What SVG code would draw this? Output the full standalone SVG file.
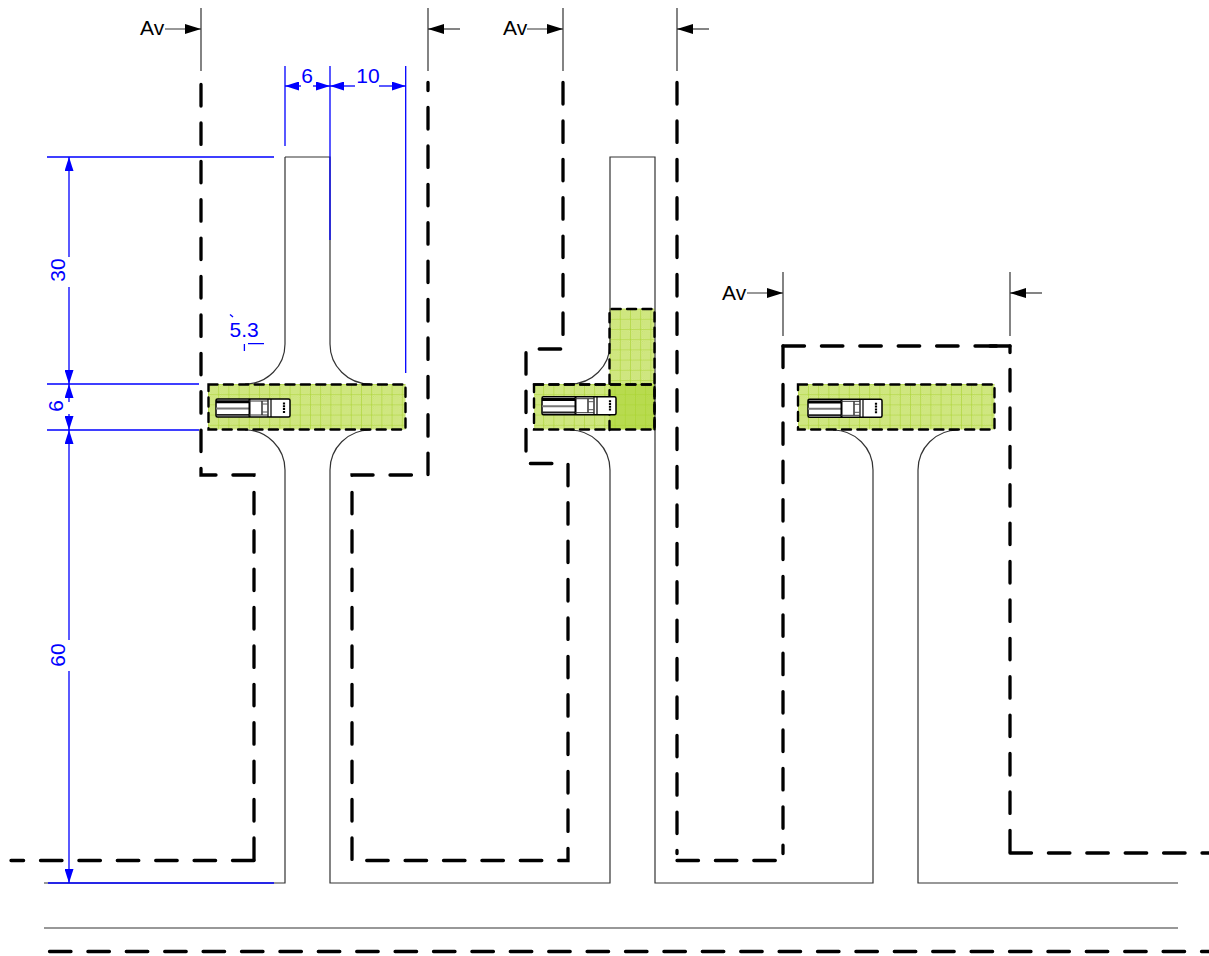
<svg xmlns="http://www.w3.org/2000/svg" width="1209" height="956" viewBox="0 0 1209 956">
<style>
text{font-family:"Liberation Sans",Arial,sans-serif;font-size:21px}
.k{fill:#000}.b{fill:#0000ff}
.road{fill:none;stroke:#333;stroke-width:1.2}
.dash{fill:none;stroke:#000;stroke-width:3.3;stroke-dasharray:21.5 16.9;stroke-linecap:round;stroke-linejoin:miter}
.sec{fill:none;stroke:#333;stroke-width:1.2}
.dim{fill:none;stroke:#0000ff;stroke-width:1.3}
.box{fill:none;stroke:#000;stroke-width:2.4;stroke-dasharray:9 6.4;stroke-linecap:round}
</style>
<defs>
<pattern id="stip" width="2" height="2" patternUnits="userSpaceOnUse">
<rect width="2" height="2" fill="#d8ec96"/><rect width="1" height="1" fill="#c6e169"/><rect x="1" y="1" width="1" height="1" fill="#c6e169"/>
</pattern>
<pattern id="h1" width="10.2" height="10.2" patternUnits="userSpaceOnUse" x="208" y="384">
<rect width="10.2" height="10.2" fill="url(#stip)"/>
<path d="M0 0V10.2M0 0H10.2" stroke="#a9d32f" stroke-width="1.1"/>
</pattern>
<pattern id="h2" href="#h1" x="533" y="384"/>
<pattern id="h3" href="#h1" x="609.6" y="308.6"/>
<pattern id="h4" href="#h1" x="797.8" y="384"/>
<marker id="ak" viewBox="0 0 16 10" markerWidth="16" markerHeight="10" refX="16" refY="5" orient="auto" markerUnits="userSpaceOnUse"><path d="M0 0L16 5L0 10Z" fill="#000"/></marker>
<marker id="ab" viewBox="0 0 14 9" markerWidth="14" markerHeight="9" refX="14" refY="4.5" orient="auto" markerUnits="userSpaceOnUse"><path d="M0 0L14 4.5L0 9Z" fill="#0000ff"/></marker>
<g id="truck">
<rect x="0" y="0" width="74" height="18" rx="1.5" fill="#fff" stroke="#000" stroke-width="1.5"/>
<path d="M0 2.8H33" stroke="#000" stroke-width="3"/>
<path d="M0 9.5H33" stroke="#777" stroke-width="2"/>
<path d="M0 15.8H33" stroke="#222" stroke-width="1.8"/>
<path d="M33.5 0V18" stroke="#000" stroke-width="2"/>
<path d="M46 2V16M52 0V18M55 0V18" stroke="#000" stroke-width="1.2" fill="none"/>
<path d="M33 2H52M33 16H52" stroke="#333" stroke-width="1"/>
<path d="M52 5H46M52 13H46" stroke="#555" stroke-width="1"/>
<path d="M68 3.5V14.5" stroke="#000" stroke-width="2.2" stroke-dasharray="2 .8"/>
</g>
</defs>

<g id="zones">
<rect x="208" y="384" width="197.5" height="45.5" fill="url(#h1)"/>
<rect x="534" y="384" width="120.5" height="45.5" fill="url(#h2)"/>
<rect x="609.5" y="308.5" width="45" height="76" fill="url(#h3)"/>
<rect x="609.5" y="384" width="45" height="45.5" fill="#a9d32f" fill-opacity=".6"/>
<rect x="798" y="384" width="196.5" height="45.5" fill="url(#h4)"/>
</g>

<g id="connectors">
<path class="road" d="M285 157V344A40 40 0 0 1 245 384M285 157H330V344A40 40 0 0 0 370 384M245 430A40 40 0 0 1 285 470V883H44M370 430A40 40 0 0 0 330 470V883H610V470A40 40 0 0 0 570 430M570 384A40 40 0 0 0 610 344V157H655V883H873V470A40 40 0 0 0 833 430M958 430A40 40 0 0 0 918 470V883H1178M44 928H1178"/>
<path class="dash" d="M201 84.5V475H254V860.5"/>
<path class="dash" d="M254 860.5H11"/>
<path class="dash" d="M563 82.5V349H526V463.5H568V860.5H352"/>
<path class="dash" style="stroke-dashoffset:13.4" d="M428 82.5V475H352V860.5"/>
<path class="dash" d="M677 82.5V853.5"/>
<path class="dash" d="M677 860.5H780"/>
<path class="dash" d="M783 346V853.5"/>
<path class="dash" d="M783 346H1000"/>
<path class="dash" d="M1010 346H990"/>
<path class="dash" style="stroke-dashoffset:14.9" d="M1010 346V853"/>
<path class="dash" d="M1010 853H1209"/>
<path class="dash" d="M49.5 951.5H1209"/>
<rect class="box" x="208.5" y="384.5" width="197" height="45"/>
<rect class="box" x="534" y="384.5" width="120.5" height="45"/>
<path class="box" d="M609.5 430V309H654.5V430M534 384.5H654.5"/>
<rect class="box" x="798" y="384.5" width="196.5" height="45"/>
<path class="sec" d="M201 8V71M428 8V71M563 8V71M677 8V71M783 272V336M1010 272V336"/>
<path class="sec" marker-end="url(#ak)" d="M165 29H201"/>
<path class="sec" marker-end="url(#ak)" d="M460 29H428"/>
<path class="sec" marker-end="url(#ak)" d="M527 29H563"/>
<path class="sec" marker-end="url(#ak)" d="M709 29H677"/>
<path class="sec" marker-end="url(#ak)" d="M747 293H783"/>
<path class="sec" marker-end="url(#ak)" d="M1042 293H1010"/>
</g>

<g id="dimensions">
<path class="dim" d="M285 66V146M330 66V240M405.7 66V373M47 157H274M47 384H199M47 430H199M48 883H274"/>
<path class="dim" marker-end="url(#ab)" d="M301 86H285"/>
<path class="dim" marker-end="url(#ab)" d="M313 86H330"/>
<path class="dim" marker-end="url(#ab)" d="M355 86H330"/>
<path class="dim" marker-end="url(#ab)" d="M379 86H405.7"/>
<path class="dim" marker-end="url(#ab)" d="M69 257V157"/>
<path class="dim" marker-end="url(#ab)" d="M69 287V384"/>
<path class="dim" marker-end="url(#ab)" d="M69 402V384"/>
<path class="dim" marker-end="url(#ab)" d="M69 414V430"/>
<path class="dim" marker-end="url(#ab)" d="M69 640V430"/>
<path class="dim" marker-end="url(#ab)" d="M69 671V883"/>
<path class="dim" d="M248 343.7H264M244.4 344V351"/>
<path class="dim" stroke-width="2" d="M230 314.5L233 317"/>
<text class="b" x="307" y="82.5" text-anchor="middle">6</text>
<text class="b" x="368" y="82.5" text-anchor="middle">10</text>
<text class="b" x="229.5" y="337">5.3</text>
<text class="b" transform="translate(65 270) rotate(-90)" text-anchor="middle">30</text>
<text class="b" transform="translate(63 406) rotate(-90)" text-anchor="middle">6</text>
<text class="b" transform="translate(65 655) rotate(-90)" text-anchor="middle">60</text>
</g>

<g id="labels">
<text class="k" x="140" y="35">Av</text>
<text class="k" x="503" y="35">Av</text>
<text class="k" x="722" y="300">Av</text>
</g>

<g id="truck-1"><use href="#truck" x="216" y="399"/></g>
<g id="truck-2"><use href="#truck" x="542" y="396.7"/></g>
<g id="truck-3"><use href="#truck" x="808" y="399.3"/></g>
</svg>
